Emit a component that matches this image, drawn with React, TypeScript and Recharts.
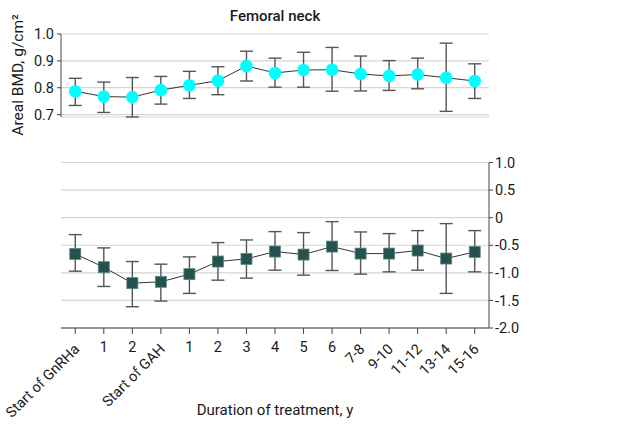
import { CartesianGrid, ErrorBar, Line, LineChart, XAxis, YAxis } from "recharts";

const FONT = 'Roboto, "Liberation Sans", sans-serif';

const categories = [
  "Start of GnRHa", "1", "2", "Start of GAH", "1", "2", "3", "4", "5", "6",
  "7-8", "9-10", "11-12", "13-14", "15-16",
];

// areal BMD, femoral neck (g/cm2)
const bmdMean = [0.787, 0.767, 0.765, 0.791, 0.809, 0.826, 0.881, 0.855, 0.866, 0.867, 0.851, 0.844, 0.849, 0.837, 0.825];
const bmdLow = [0.734, 0.708, 0.691, 0.739, 0.76, 0.774, 0.825, 0.802, 0.802, 0.787, 0.788, 0.79, 0.796, 0.712, 0.76];
const bmdHigh = [0.835, 0.821, 0.838, 0.842, 0.861, 0.878, 0.936, 0.91, 0.932, 0.95, 0.918, 0.901, 0.91, 0.966, 0.889];

// z score
const zMean = [-0.657, -0.898, -1.187, -1.163, -1.024, -0.795, -0.747, -0.614, -0.669, -0.524, -0.651, -0.651, -0.596, -0.741, -0.62];
const zLow = [-0.97, -1.247, -1.614, -1.512, -1.373, -1.133, -1.096, -0.952, -1.042, -0.958, -1.024, -0.982, -0.952, -1.373, -0.982];
const zHigh = [-0.307, -0.548, -0.795, -0.843, -0.711, -0.452, -0.404, -0.253, -0.271, -0.072, -0.259, -0.289, -0.235, -0.108, -0.235];

const bmdTicks = [0.7, 0.8, 0.9, 1.0];
const zTicks = [-2, -1.5, -1, -0.5, 0, 0.5, 1];

const topData = categories.map((label, i) => ({
  label,
  value: bmdMean[i],
  err: [bmdMean[i] - bmdLow[i], bmdHigh[i] - bmdMean[i]],
}));

const bottomData = categories.map((label, i) => ({
  label,
  value: zMean[i],
  err: [zMean[i] - zLow[i], zHigh[i] - zMean[i]],
}));

const TEXT = "#1a1a1a";
const tickStyle = { fill: TEXT, fontSize: 14.5, fontFamily: FONT };

function CategoryTick(props: any) {
  const { x, y, payload } = props;
  const label = String(payload.value);
  if (/^\d+$/.test(label)) {
    return (
      <text x={x} y={y} dy={16} textAnchor="middle" fill={TEXT} fontSize={14.5} fontFamily={FONT}>
        {label}
      </text>
    );
  }
  const ax = x + 5;
  const ay = y + 14;
  return (
    <text x={ax} y={ay} textAnchor="end" transform={`rotate(-45 ${ax} ${ay})`} fill={TEXT} fontSize={14.5} fontFamily={FONT}>
      {label}
    </text>
  );
}

function SquareDot(props: any) {
  const { cx, cy } = props;
  if (cx == null || cy == null) return null;
  return <rect x={cx - 5.5} y={cy - 5.5} width={11} height={11} fill="#23524f" stroke="#5f8581" strokeWidth={0.8} />;
}

const zFormat = (v: number) => (v === 0 ? "0" : v.toFixed(1));

export default function App() {
  return (
    <div style={{ position: "absolute", left: 0, top: 0, width: 621, height: 427, background: "#fff", fontFamily: FONT, color: TEXT }}>
      <div style={{ position: "absolute", left: 61, top: 5, width: 428, textAlign: "center", fontSize: 15, fontWeight: 500, lineHeight: "22px" }}>
        Femoral neck
      </div>
      <div
        style={{
          position: "absolute",
          left: 18 - 100,
          top: 75 - 11,
          width: 200,
          height: 22,
          lineHeight: "22px",
          textAlign: "center",
          fontSize: 15.5,
          transform: "rotate(-90deg)",
        }}
      >
        Areal BMD, g/cm²
      </div>

      <div style={{ position: "absolute", left: 0, top: 0 }}>
        <LineChart width={621} height={132} data={topData} margin={{ top: 34, right: 132, bottom: 15, left: 0 }}>
          <CartesianGrid vertical={false} stroke="#d6d6d6" strokeWidth={1.2} />
          <XAxis dataKey="label" hide padding={{ left: 14.27, right: 14.27 }} />
          <YAxis
            width={61}
            domain={[0.7, 1.0]}
            ticks={bmdTicks}
            interval={0}
            tickFormatter={(v: number) => v.toFixed(1)}
            axisLine={{ stroke: "#444" }}
            tickLine={{ stroke: "#444" }}
            tickSize={4}
            tickMargin={3}
            tick={tickStyle}
          />
          <Line
            dataKey="value"
            stroke="#333"
            strokeWidth={1}
            isAnimationActive={false}
            dot={{ r: 6.3, fill: "#00ffff", stroke: "none" }}
            activeDot={false}
          >
            <ErrorBar dataKey="err" width={6.5} stroke="#555" strokeWidth={1.4} />
          </Line>
        </LineChart>
      </div>

      <div style={{ position: "absolute", left: 0, top: 140 }}>
        <LineChart width={621} height={287} data={bottomData} margin={{ top: 22.5, right: 0, bottom: 0, left: 61 }}>
          <CartesianGrid vertical={false} stroke="#d6d6d6" strokeWidth={1.2} />
          <XAxis
            dataKey="label"
            height={99}
            padding={{ left: 14.27, right: 14.27 }}
            interval={0}
            axisLine={{ stroke: "#444" }}
            tickLine={{ stroke: "#444" }}
            tickSize={6}
            tick={<CategoryTick />}
            label={{ value: "Duration of treatment, y", position: "insideBottom", offset: 12, fill: TEXT, fontSize: 15, fontFamily: FONT }}
          />
          <YAxis
            orientation="right"
            width={132}
            domain={[-2, 1]}
            ticks={zTicks}
            interval={0}
            tickFormatter={zFormat}
            axisLine={{ stroke: "#444" }}
            tickLine={{ stroke: "#444" }}
            tickSize={4}
            tickMargin={2}
            tick={{ ...tickStyle, textAnchor: "start" }}
          />
          <Line
            dataKey="value"
            stroke="#333"
            strokeWidth={1}
            isAnimationActive={false}
            dot={<SquareDot />}
            activeDot={false}
          >
            <ErrorBar dataKey="err" width={6.5} stroke="#555" strokeWidth={1.4} />
          </Line>
        </LineChart>
      </div>
    </div>
  );
}
